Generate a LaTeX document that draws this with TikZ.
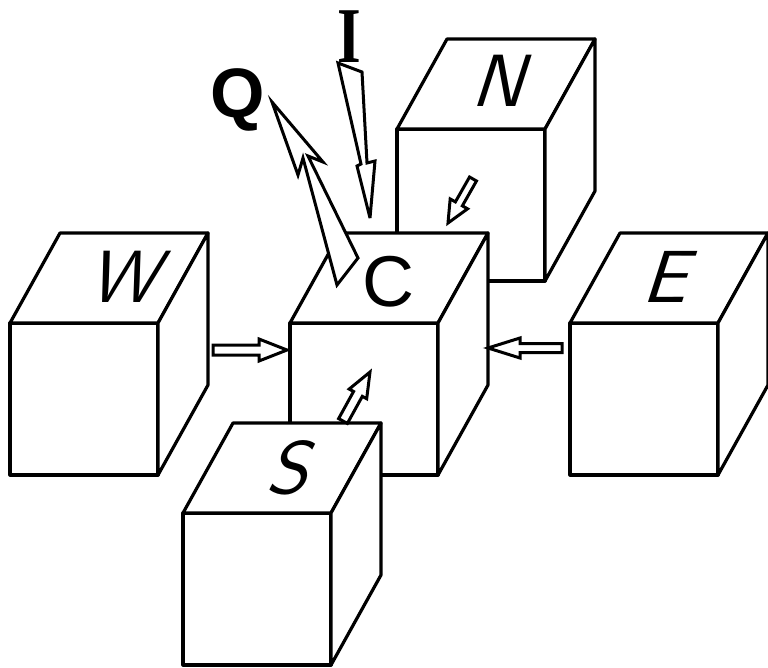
\documentclass[tikz,border=0pt]{standalone}
\usepackage{fontspec}
\usetikzlibrary{calc}
% lettering on the cube tops, the centre letter and the two flux labels
\newfontfamily\facefont[FakeSlant=0.32]{lmsans10-regular.otf}
\newfontfamily\centrefont{Liberation Sans}
\newfontfamily\heavysans{Liberation Sans}
\newfontfamily\heavyserif{Liberation Serif}

% a cube given by the upper left corner of its front face
\newcommand\drawcube[1]{%
  \draw[cubeedge] (#1) -- ++(148,0) -- ++(0,152) -- ++(-148,0) -- cycle;
  \draw[cubeedge] (#1) -- ++(50,-90) -- ++(148,0) -- ++(-50,90) -- cycle;
  \draw[cubeedge] ($(#1)+(148,0)$) -- ++(50,-90) -- ++(0,152) -- ++(-50,90) -- cycle;
}
% outlined block arrow: tail, tip, shaft half width, head half width, head length
\newcommand\blockarrow[5]{%
  \coordinate (neck) at ($(#2)!#5!(#1)$);
  \draw[arrowbody] ($(#1)!#3!90:(#2)$) -- ($(neck)!#3!90:(#2)$)
    -- ($(neck)!#4!90:(#2)$) -- (#2) -- ($(neck)!#4!-90:(#2)$)
    -- ($(neck)!#3!-90:(#2)$) -- ($(#1)!#3!-90:(#2)$) -- cycle;
}

\begin{document}
\begin{tikzpicture}[x=1pt,y=-1pt,
  cubeedge/.style={draw=black, fill=white, line width=3.2pt, line join=round},
  arrowbody/.style={draw=black, fill=white, line width=3pt, line join=miter, miter limit=6},
  facelbl/.style={anchor=base, inner sep=0pt, font=\facefont\fontsize{74}{74}\selectfont},
  centrelbl/.style={anchor=base, inner sep=0pt, font=\centrefont\fontsize{72}{72}\selectfont},
  fluxQ/.style={anchor=base, inner sep=0pt, font=\heavysans\bfseries\fontsize{70}{70}\selectfont},
  fluxI/.style={anchor=base, inner sep=0pt, font=\heavyserif\bfseries\fontsize{76}{76}\selectfont}]
\useasboundingbox (0,0) rectangle (768,667);

% cube corners (front face, upper left)
\coordinate (N) at (397,129);
\coordinate (C) at (290,323);
\coordinate (W) at (10,323);
\coordinate (E) at (570,323);
\coordinate (S) at (183,513);

\drawcube{N}
\drawcube{C}
\drawcube{W}
\drawcube{E}
\drawcube{S}

% face letters
\node[facelbl]   (lN) at (497,106) {N};
\node[facelbl]   (lW) at (121,302) {W};
\node[facelbl]   (lE) at (664,302) {E};
\node[facelbl]   (lS) at (286,493) {S};
\node[centrelbl] (lC) at (388,306) {C};
\node[fluxQ]     (lQ) at (238,117) {Q};
\node[fluxI]     (lI) at (349,62)  {\scalebox{0.8}[1.04]{I}};

% flow from the neighbours into the centre cube
\coordinate (W-out) at (213,350);  \coordinate (C-w) at (287,350);
\coordinate (E-out) at (562,348);  \coordinate (C-e) at (488,348);
\coordinate (S-out) at (343,421);  \coordinate (C-s) at (370,372);
\coordinate (N-out) at (473,179);  \coordinate (C-n) at (448,223);
\blockarrow{W-out}{C-w}{5pt}{11pt}{28pt}
\blockarrow{E-out}{C-e}{4.5pt}{10pt}{32pt}
\blockarrow{S-out}{C-s}{5pt}{10pt}{25pt}
\blockarrow{N-out}{C-n}{4pt}{10pt}{22pt}

% incoming flux I, tapering towards the centre cube
\draw[arrowbody] (338,63) -- (362,72) -- (367,163) -- (375,161) -- (370,218)
  -- (357,166) -- (361,164) -- cycle;
% outgoing flux Q leaving the top of the centre cube
\draw[arrowbody] (272,102) -- (323,162) -- (308,156) -- (358,258) -- (337,285)
  -- (303,158) -- (298,175) -- cycle;
\end{tikzpicture}
\end{document}
